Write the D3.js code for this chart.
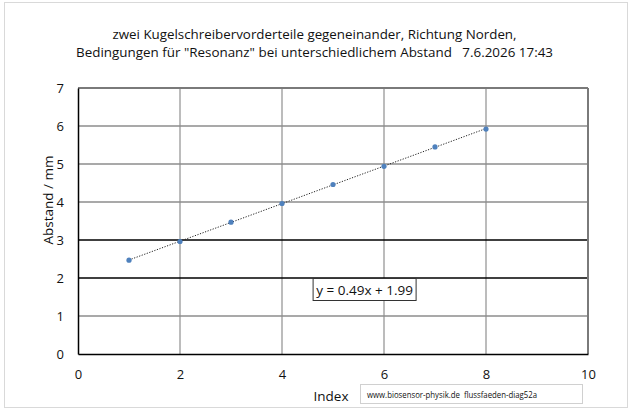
<!doctype html>
<html lang="de">
<head>
<meta charset="utf-8">
<title>Abstand</title>
<script src="https://d3js.org/d3.v7.min.js"></script>
<style>
  body { margin: 0; background: #fff; }
  svg text { font-family: "Open Sans", "DejaVu Sans", sans-serif; fill: #111; white-space: pre; }
</style>
</head>
<body>
<div id="chart"></div>
<script>
// data
var index = [1, 2, 3, 4, 5, 6, 7, 8];
var abstand = [2.47, 2.96, 3.47, 3.96, 4.46, 4.94, 5.45, 5.92];
var xTicks = [0, 2, 4, 6, 8, 10];
var yTicks = [0, 1, 2, 3, 4, 5, 6, 7];
var titleLines = ["zwei Kugelschreibervorderteile gegeneinander, Richtung Norden,",
                  "Bedingungen für \"Resonanz\" bei unterschiedlichem Abstand   7.6.2026 17:43"];
var equationText = "y = 0.49x + 1.99";
var footText = "www.biosensor-physik.de  flussfaeden-diag52a";

var W = 636, H = 413;
var margin = {top: 88, right: 48, bottom: 59, left: 78};
var width = W - margin.left - margin.right,
    height = H - margin.top - margin.bottom;

var svg = d3.select("#chart").append("svg")
  .attr("width", W).attr("height", H);

// outer frame
svg.append("rect")
  .attr("x", 4.5).attr("y", 2.5).attr("width", 623).attr("height", 405)
  .attr("fill", "#fff").attr("stroke", "#d9d9d9");

// title
svg.selectAll(".title").data(titleLines).enter().append("text")
  .attr("x", function(d, i) { return i == 0 ? 112.5 : 76; })
  .attr("y", function(d, i) { return 39 + i * 18; })
  .attr("textLength", function(d, i) { return i == 0 ? 404 : 477; })
  .attr("lengthAdjust", "spacingAndGlyphs")
  .style("font-size", "13.5px")
  .text(function(d) { return d; });

var g = svg.append("g")
  .attr("transform", "translate(" + margin.left + "," + margin.top + ")");

var x = d3.scaleLinear().domain([0, 10]).range([0, width]);
var y = d3.scaleLinear().domain([0, 7]).range([height, 0]);

// vertical grid
g.selectAll(".vgrid").data(xTicks.filter(function(d) { return d > 0 && d < 10; }))
  .enter().append("line")
  .attr("x1", function(d) { return x(d); }).attr("x2", function(d) { return x(d); })
  .attr("y1", 0).attr("y2", height)
  .attr("stroke", "#a6a6a6").attr("stroke-width", 1.5);

// horizontal grid (excel renders some darker than others)
g.selectAll(".hgrid").data(yTicks.filter(function(d) { return d > 0; }))
  .enter().append("line")
  .attr("x1", 0).attr("x2", width)
  .attr("y1", function(d) { return y(d); }).attr("y2", function(d) { return y(d); })
  .attr("stroke", function(d) { return (d == 2 || d == 3) ? "#000" : (d == 7 ? "#7a7a7a" : "#8c8c8c"); })
  .attr("stroke-width", function(d) { return d == 7 ? 2 : 1.3; });

// right border
g.append("line")
  .attr("x1", width).attr("x2", width).attr("y1", 0).attr("y2", height)
  .attr("stroke", "#7a7a7a").attr("stroke-width", 2);

// axes
var xAxis = d3.axisBottom(x).tickValues(xTicks).tickSize(0).tickPadding(16).tickFormat(d3.format("d"));
var yAxis = d3.axisLeft(y).tickValues(yTicks).tickSize(0).tickPadding(14).tickFormat(d3.format("d"));

var gx = g.append("g").attr("transform", "translate(0," + height + ")").call(xAxis);
var gy = g.append("g").call(yAxis);
[gx, gy].forEach(function(a) {
  a.select(".domain").attr("stroke", "#000").attr("stroke-width", 1.5);
  a.selectAll("text").style("font-size", "13px").style("font-family", "\"Open Sans\", sans-serif").attr("fill", "#111");
});

// axis titles
g.append("text")
  .attr("transform", "translate(-25," + (height / 2 - 21) + ") rotate(-90)")
  .attr("text-anchor", "middle")
  .style("font-size", "13.5px")
  .text("Abstand / mm");

svg.append("text")
  .attr("x", 331).attr("y", 401)
  .attr("text-anchor", "middle")
  .style("font-size", "13.5px")
  .text("Index");

// trendline from least squares fit of the points
var mx = d3.mean(index), my = d3.mean(abstand);
var sxy = d3.sum(index, function(d, i) { return (d - mx) * (abstand[i] - my); });
var sxx = d3.sum(index, function(d) { return (d - mx) * (d - mx); });
var slope = sxy / sxx, icpt = my - slope * mx;
var ext = d3.extent(index);

g.append("path")
  .datum(ext)
  .attr("fill", "none")
  .attr("stroke", "#222")
  .attr("stroke-width", 1)
  .attr("stroke-dasharray", "1.2,1.5")
  .attr("d", d3.line()
    .x(function(d) { return x(d); })
    .y(function(d) { return y(slope * d + icpt); }));

// points
g.selectAll(".dot").data(index).enter().append("circle")
  .attr("cx", function(d) { return x(d); })
  .attr("cy", function(d, i) { return y(abstand[i]); })
  .attr("r", 2.6)
  .attr("fill", "#4f81bd");

// equation label
var eq = g.append("g").attr("transform", "translate(" + (x(4.6)) + "," + (y(2)) + ")");
eq.append("rect")
  .attr("x", 0.5).attr("y", 0.5).attr("width", 103).attr("height", 22)
  .attr("fill", "#fff").attr("stroke", "#333").attr("stroke-width", 1);
eq.append("text")
  .attr("x", 52).attr("y", 17)
  .attr("text-anchor", "middle")
  .style("font-size", "13.5px")
  .text(equationText);

// footer box
svg.append("rect")
  .attr("x", 360.5).attr("y", 384.5).attr("width", 222).attr("height", 19)
  .attr("fill", "#fff").attr("stroke", "#d0d0d0");
svg.append("text")
  .attr("x", 367).attr("y", 398)
  .attr("textLength", 170)
  .attr("lengthAdjust", "spacingAndGlyphs")
  .style("font-size", "9px")
  .text(footText);
</script>
</body>
</html>
